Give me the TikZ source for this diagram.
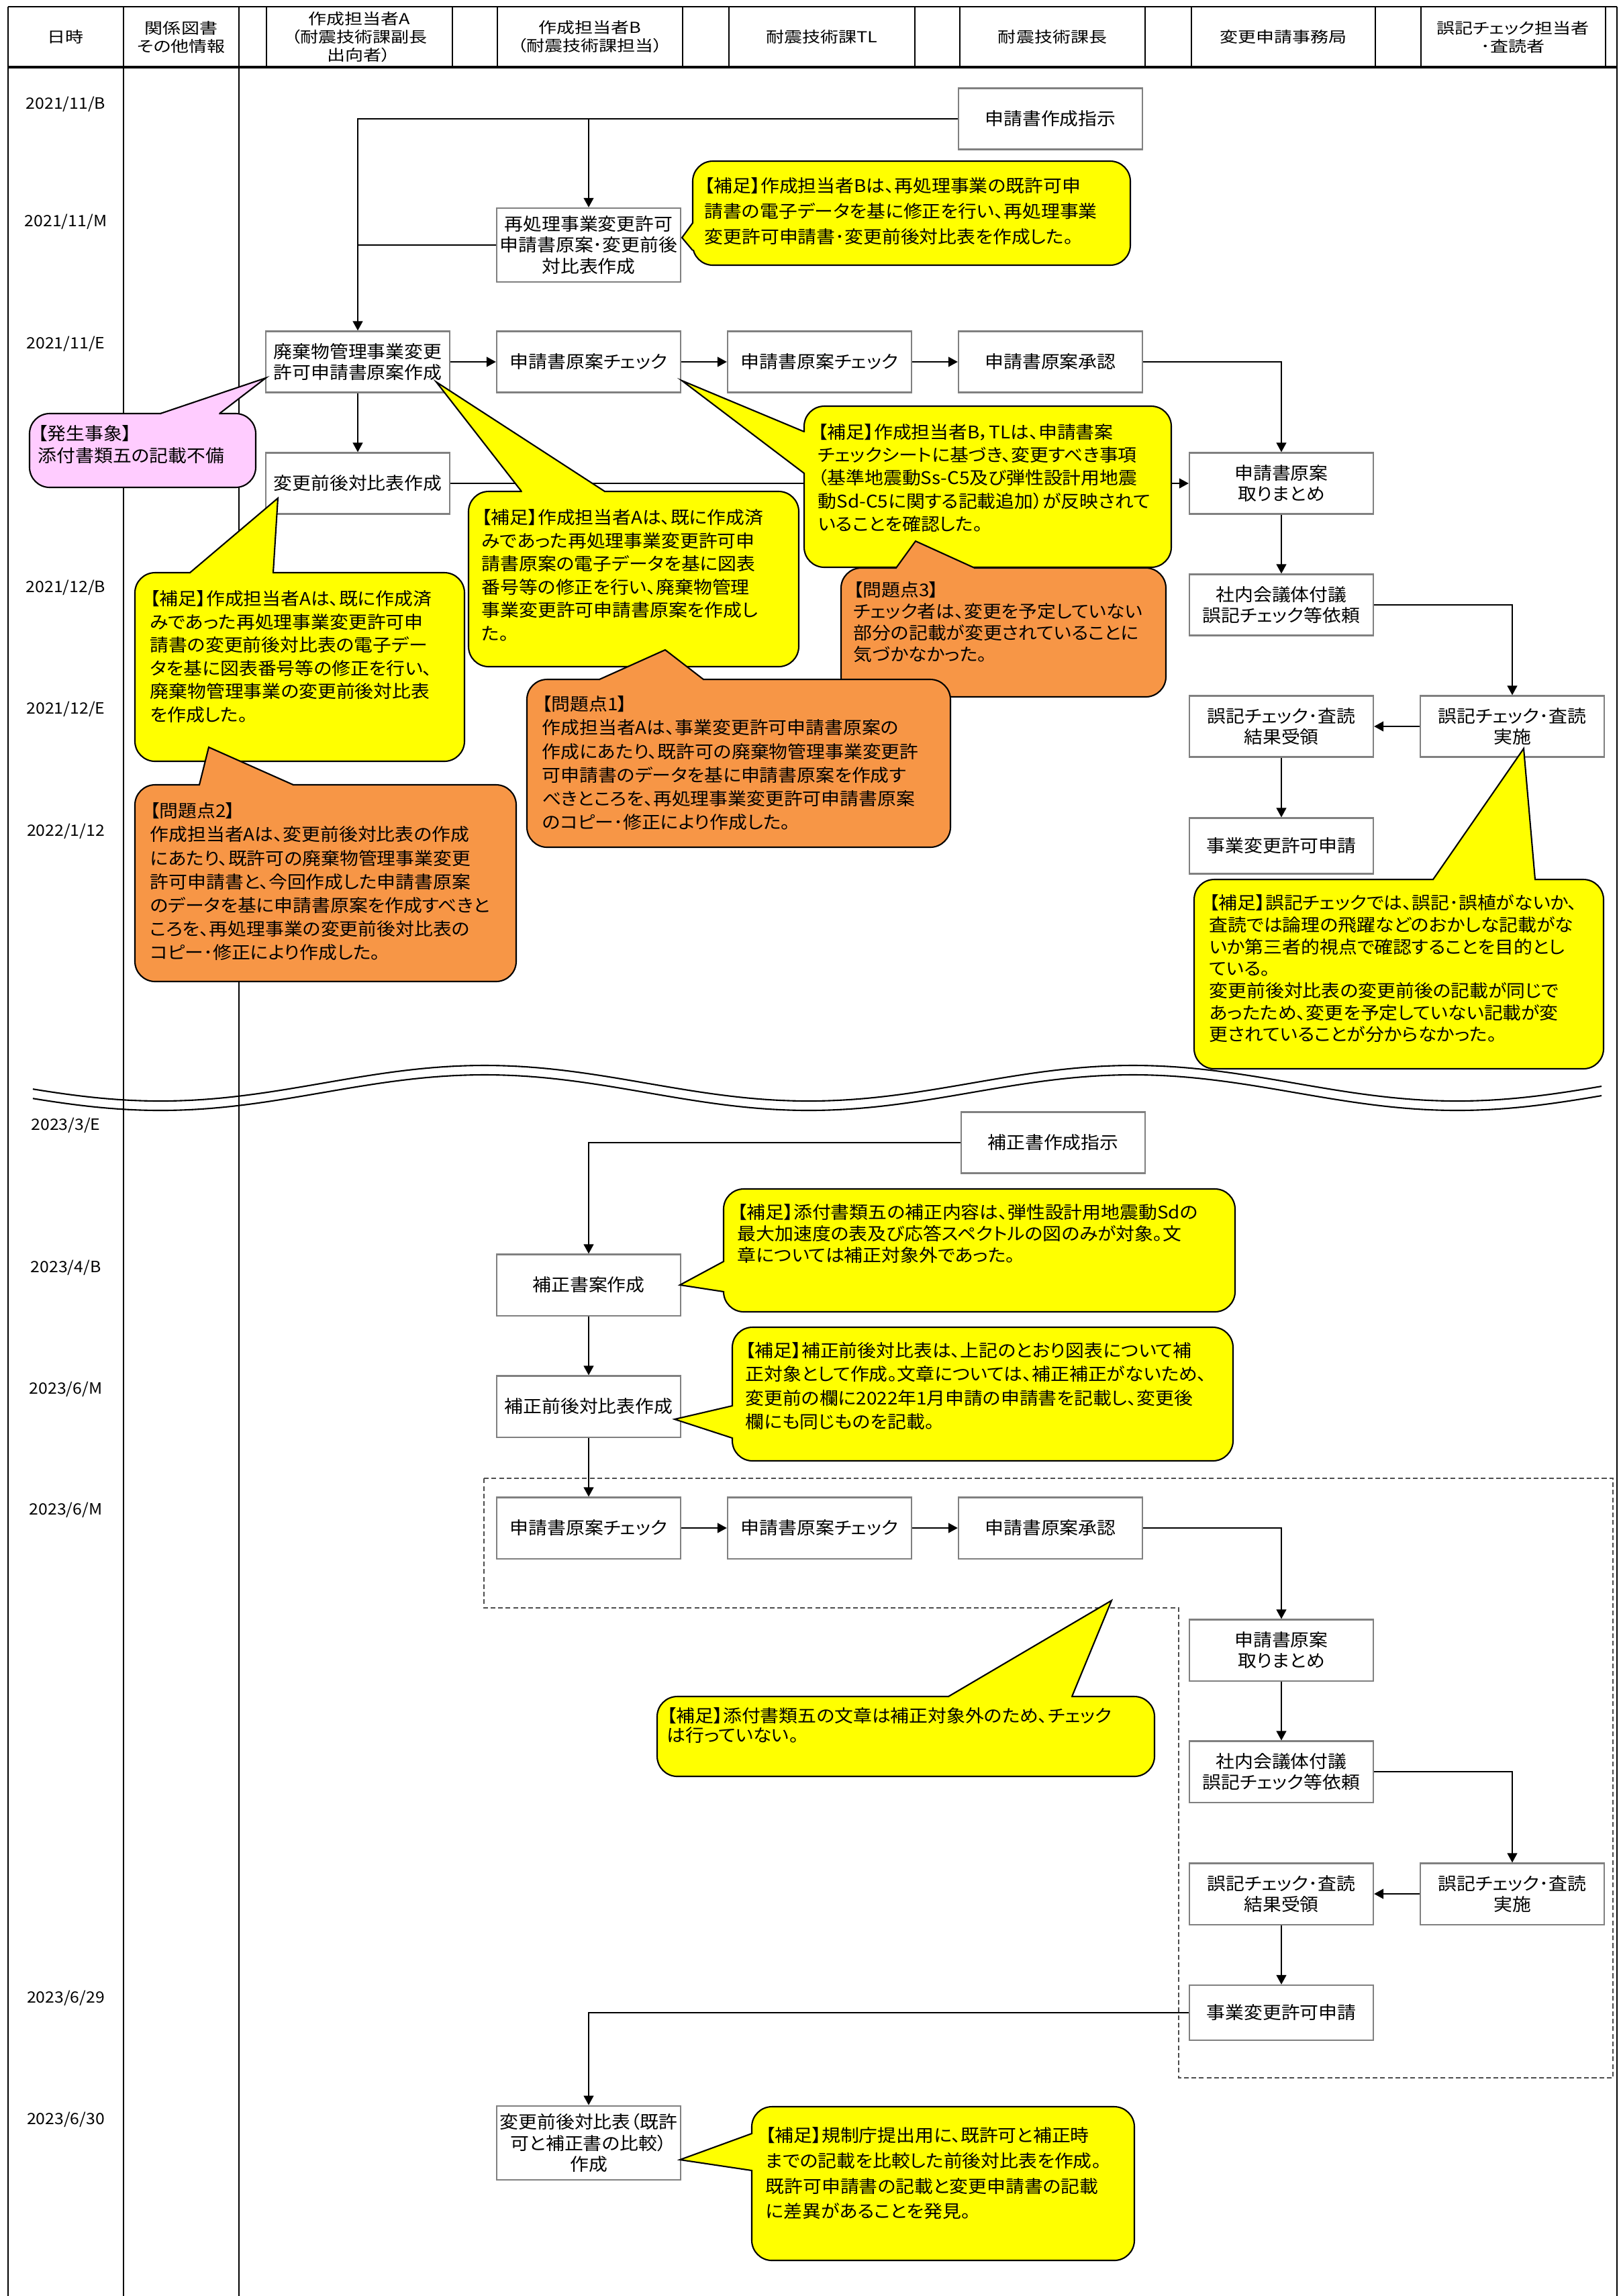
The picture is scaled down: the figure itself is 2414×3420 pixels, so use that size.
\documentclass[tikz,border=0pt]{standalone}
\usepackage{fontspec}
\setmainfont{Noto Sans CJK JP}[FakeStretch=1.07,RawFeature=+palt]
\newfontfamily\headfont{Noto Sans CJK JP}[FakeStretch=1.2,RawFeature=+palt]
\usetikzlibrary{arrows.meta}
\definecolor{noteyellow}{RGB}{255,255,0}
\definecolor{noteorange}{RGB}{247,150,70}
\definecolor{notepink}{RGB}{255,204,255}
\tikzset{
  colline/.style={line width=0.7pt},
  taskbox/.style={draw=black!50,line width=0.6pt,fill=white,minimum width=2.74cm,minimum height=0.91cm,inner xsep=1pt,align=center,font=\fontsize{7.4}{8.9}\selectfont},
  flowarrow/.style={line width=0.6pt,-{Triangle[length=4pt,width=4.2pt]}},
  plainline/.style={line width=0.6pt},
  notebox/.style={line width=0.6pt,rounded corners=0.3cm},
  notetext/.style={anchor=north west,inner sep=0pt,align=left,font=\fontsize{7.4}{9.8}\selectfont},
  datelabel/.style={font=\fontsize{6.6}{8}\selectfont},
  headlabel/.style={align=center,font=\headfont\fontsize{6.4}{7.7}\selectfont}
}
\begin{document}
\begin{tikzpicture}[x=0.01cm,y=-0.01cm]
\useasboundingbox (0,0) rectangle (2414,3420);
% header row and lanes
\draw[colline] (12,10) -- (2409,10);
\draw[colline,line width=1pt] (12,100) -- (2409,100);
\foreach \cx in {12,184,356,397,674,741,1017,1086,1363,1430,1706,1775,2049,2117,2392,2409}
  \draw[colline] (\cx,10) -- (\cx,100);
\foreach \cx in {12,184,356,2409}
  \draw[colline] (\cx,100) -- (\cx,3420);
\node[headlabel] (hdate) at (98,55) {日時};
\node[headlabel] (hinfo) at (270,55) {関係図書\\その他情報};
\node[headlabel] (hA) at (535,55) {作成担当者A\\（耐震技術課副長\\出向者）};
\node[headlabel] (hB) at (879,55) {作成担当者B\\（耐震技術課担当）};
\node[headlabel] (hTL) at (1224,55) {耐震技術課TL};
\node[headlabel] (hchief) at (1568,55) {耐震技術課長};
\node[headlabel] (hoffice) at (1912,55) {変更申請事務局};
\node[headlabel] (hcheck) at (2254,55) {誤記チェック担当者\\･査読者};
% dates
\node[datelabel] (d1) at (98,155) {2021/11/B};
\node[datelabel] (d2) at (98,330) {2021/11/M};
\node[datelabel] (d3) at (98,512) {2021/11/E};
\node[datelabel] (d4) at (98,875) {2021/12/B};
\node[datelabel] (d5) at (98,1056) {2021/12/E};
\node[datelabel] (d6) at (98,1238) {2022/1/12};
\node[datelabel] (d7) at (98,1676) {2023/3/E};
\node[datelabel] (d8) at (98,1888) {2023/4/B};
\node[datelabel] (d9) at (98,2069) {2023/6/M};
\node[datelabel] (d10) at (98,2249) {2023/6/M};
\node[datelabel] (d11) at (98,2976) {2023/6/29};
\node[datelabel] (d12) at (98,3157) {2023/6/30};
% break between the two periods
\draw[line width=0.6pt] plot[domain=49:2386,samples=150,smooth] (\x,{1613.5+26.5*cos(((\x-239)/966)*360)});
\draw[line width=0.6pt] plot[domain=49:2386,samples=150,smooth] (\x,{1627.5+26.5*cos(((\x-239)/966)*360)});
\draw[black!70,line width=0.5pt,dash pattern=on 2pt off 1.2pt] (721,2202) -- (2403,2202) -- (2403,3095) -- (1756,3095) -- (1756,2395) -- (721,2395) -- cycle;
% first period
\node[taskbox] (shijiA) at (1565,177) {申請書作成指示};
\node[taskbox,minimum height=1.08cm] (saishori) at (877,365) {再処理事業変更許可\\申請書原案･変更前後\\対比表作成};
\node[taskbox] (haiki) at (533,539) {廃棄物管理事業変更\\許可申請書原案作成};
\node[taskbox] (chkB) at (877,539) {申請書原案チェック};
\node[taskbox] (chkTL) at (1221,539) {申請書原案チェック};
\node[taskbox] (shonin) at (1565,539) {申請書原案承認};
\node[taskbox] (taihiA) at (533,720) {変更前後対比表作成};
\node[taskbox] (torimatome) at (1909,720) {申請書原案\\取りまとめ};
\node[taskbox] (fugi) at (1909,901) {社内会議体付議\\誤記チェック等依頼};
\node[taskbox] (jisshi) at (2253,1082) {誤記チェック･査読\\実施};
\node[taskbox] (juryo) at (1909,1082) {誤記チェック･査読\\結果受領};
\node[taskbox,minimum height=0.83cm] (shinsei) at (1909,1260) {事業変更許可申請};
% second period
\node[taskbox] (hoseiShiji) at (1569,1702) {補正書作成指示};
\node[taskbox] (hoseian) at (877,1914) {補正書案作成};
\node[taskbox] (hoseiTaihi) at (877,2095) {補正前後対比表作成};
\node[taskbox] (chkB2) at (877,2276) {申請書原案チェック};
\node[taskbox] (chkTL2) at (1221,2276) {申請書原案チェック};
\node[taskbox] (shonin2) at (1565,2276) {申請書原案承認};
\node[taskbox] (torimatome2) at (1909,2458) {申請書原案\\取りまとめ};
\node[taskbox] (fugi2) at (1909,2639) {社内会議体付議\\誤記チェック等依頼};
\node[taskbox] (jisshi2) at (2253,2821) {誤記チェック･査読\\実施};
\node[taskbox] (juryo2) at (1909,2821) {誤記チェック･査読\\結果受領};
\node[taskbox,minimum height=0.82cm] (shinsei2) at (1909,2998) {事業変更許可申請};
\node[taskbox,minimum height=1.09cm] (henkou2) at (877,3192) {変更前後対比表（既許\\可と補正書の比較）\\作成};
% connectors
\draw[flowarrow] (shijiA.west) -| (haiki.north);
\draw[flowarrow] (saishori.north |- shijiA.west) -- (saishori.north);
\draw[plainline] (saishori.west) -- (saishori.west -| haiki.north);
\draw[flowarrow] (haiki) -- (chkB);
\draw[flowarrow] (chkB) -- (chkTL);
\draw[flowarrow] (chkTL) -- (shonin);
\draw[flowarrow] (shonin.east) -| (torimatome.north);
\draw[flowarrow] (haiki) -- (taihiA);
\draw[flowarrow] (taihiA) -- (torimatome);
\draw[flowarrow] (torimatome) -- (fugi);
\draw[flowarrow] (fugi.east) -| (jisshi.north);
\draw[flowarrow] (jisshi) -- (juryo);
\draw[flowarrow] (juryo) -- (shinsei);
\draw[flowarrow] (hoseiShiji.west) -| (hoseian.north);
\draw[flowarrow] (hoseian) -- (hoseiTaihi);
\draw[flowarrow] (hoseiTaihi) -- (chkB2);
\draw[flowarrow] (chkB2) -- (chkTL2);
\draw[flowarrow] (chkTL2) -- (shonin2);
\draw[flowarrow] (shonin2.east) -| (torimatome2.north);
\draw[flowarrow] (torimatome2) -- (fugi2);
\draw[flowarrow] (fugi2.east) -| (jisshi2.north);
\draw[flowarrow] (jisshi2) -- (juryo2);
\draw[flowarrow] (juryo2) -- (shinsei2);
\draw[flowarrow] (shinsei2.west) -| (henkou2.north);
% callouts
\draw[notebox,fill=noteyellow] (1032,240) rectangle (1684,395);
\fill[noteyellow] (1032,332) -- (1016,354) -- (1032,373) -- cycle;
\draw[noteyellow,line width=1.2pt] (1032,333) -- (1032,372);
\draw[plainline] (1032,332) -- (1016,354) -- (1032,373);
\node[notetext,font=\fontsize{7.4}{10.8}\selectfont] (note1) at (1049,264) {【補足】作成担当者Bは、再処理事業の既許可申\\請書の電子データを基に修正を行い、再処理事業\\変更許可申請書･変更前後対比表を作成した。};

\draw[notebox,fill=notepink] (44,616) rectangle (381,726);
\fill[notepink] (239,616) -- (396,563) -- (327,616) -- cycle;
\draw[notepink,line width=1.2pt] (240,616) -- (326,616);
\draw[plainline] (239,616) -- (396,563) -- (327,616);
\node[notetext,font=\fontsize{7.4}{9.4}\selectfont] (note2) at (56,633) {【発生事象】\\添付書類五の記載不備};

\draw[notebox,fill=noteyellow] (698,732) rectangle (1190,993);
\fill[noteyellow] (777,732) -- (650,569) -- (901,732) -- cycle;
\draw[noteyellow,line width=1.2pt] (778,732) -- (900,732);
\draw[plainline] (777,732) -- (650,569) -- (901,732);
\node[notetext] (note4) at (717,758) {【補足】作成担当者Aは、既に作成済\\みであった再処理事業変更許可申\\請書原案の電子データを基に図表\\番号等の修正を行い、廃棄物管理\\事業変更許可申請書原案を作成し\\た。};

\draw[notebox,fill=noteyellow] (201,853) rectangle (692,1134);
\fill[noteyellow] (283,853) -- (414,742) -- (407,853) -- cycle;
\draw[noteyellow,line width=1.2pt] (284,853) -- (406,853);
\draw[plainline] (283,853) -- (414,742) -- (407,853);
\node[notetext] (note3) at (223,879) {【補足】作成担当者Aは、既に作成済\\みであった再処理事業変更許可申\\請書の変更前後対比表の電子デー\\タを基に図表番号等の修正を行い、\\廃棄物管理事業の変更前後対比表\\を作成した。};

\draw[notebox,fill=noteorange] (201,1169) rectangle (769,1462);
\fill[noteorange] (297,1169) -- (311,1113) -- (437,1169) -- cycle;
\draw[noteorange,line width=1.2pt] (298,1169) -- (436,1169);
\draw[plainline] (297,1169) -- (311,1113) -- (437,1169);
\node[notetext,font=\fontsize{7.4}{10}\selectfont] (note6) at (223,1195) {【問題点2】\\作成担当者Aは、変更前後対比表の作成\\にあたり、既許可の廃棄物管理事業変更\\許可申請書と、今回作成した申請書原案\\のデータを基に申請書原案を作成すべきと\\ころを、再処理事業の変更前後対比表の\\コピー･修正により作成した。};

\draw[notebox,fill=noteyellow] (1198,605) rectangle (1745,845);
\fill[noteyellow] (1198,643) -- (1016,567) -- (1198,705) -- cycle;
\draw[noteyellow,line width=1.2pt] (1198,644) -- (1198,704);
\draw[plainline] (1198,643) -- (1016,567) -- (1198,705);
\node[notetext,font=\fontsize{7.4}{9.7}\selectfont] (note7) at (1218,631) {【補足】作成担当者B，TLは、申請書案\\チェックシートに基づき、変更すべき事項\\（基準地震動Ss-C5及び弾性設計用地震\\動Sd-C5に関する記載追加）が反映されて\\いることを確認した。};

\draw[notebox,fill=noteorange] (1253,846) rectangle (1737,1038);
\fill[noteorange] (1335,846) -- (1364,806) -- (1452,846) -- cycle;
\draw[noteorange,line width=1.2pt] (1336,846) -- (1451,846);
\draw[plainline] (1335,846) -- (1364,806) -- (1452,846);
\node[notetext,font=\fontsize{7.4}{9.1}\selectfont] (note8) at (1271,866) {【問題点3】\\チェック者は、変更を予定していない\\部分の記載が変更されていることに\\気づかなかった。};

\draw[notebox,fill=noteorange] (785,1012) rectangle (1416,1262);
\fill[noteorange] (893,1012) -- (991,968) -- (1048,1012) -- cycle;
\draw[noteorange,line width=1.2pt] (894,1012) -- (1047,1012);
\draw[plainline] (893,1012) -- (991,968) -- (1048,1012);
\node[notetext,font=\fontsize{7.4}{10}\selectfont] (note5) at (807,1036) {【問題点1】\\作成担当者Aは、事業変更許可申請書原案の\\作成にあたり、既許可の廃棄物管理事業変更許\\可申請書のデータを基に申請書原案を作成す\\べきところを、再処理事業変更許可申請書原案\\のコピー･修正により作成した。};

\draw[notebox,fill=noteyellow] (1779,1310) rectangle (2389,1592);
\fill[noteyellow] (2135,1310) -- (2270,1115) -- (2287,1310) -- cycle;
\draw[noteyellow,line width=1.2pt] (2136,1310) -- (2286,1310);
\draw[plainline] (2135,1310) -- (2270,1115) -- (2287,1310);
\node[notetext,font=\fontsize{7.4}{9.3}\selectfont] (note9) at (1801,1332) {【補足】誤記チェックでは、誤記･誤植がないか、\\査読では論理の飛躍などのおかしな記載がな\\いか第三者的視点で確認することを目的とし\\ている。\\変更前後対比表の変更前後の記載が同じで\\あったため、変更を予定していない記載が変\\更されていることが分からなかった。};

\draw[notebox,fill=noteyellow] (1078,1771) rectangle (1840,1954);
\fill[noteyellow] (1078,1879) -- (1013,1914) -- (1078,1924) -- cycle;
\draw[noteyellow,line width=1.2pt] (1078,1880) -- (1078,1923);
\draw[plainline] (1078,1879) -- (1013,1914) -- (1078,1924);
\node[notetext,font=\fontsize{7.4}{9.1}\selectfont] (note10) at (1098,1793) {【補足】添付書類五の補正内容は、弾性設計用地震動Sdの\\最大加速度の表及び応答スペクトルの図のみが対象。文\\章については補正対象外であった。};

\draw[notebox,fill=noteyellow] (1091,1977) rectangle (1837,2176);
\fill[noteyellow] (1091,2094) -- (1005,2114) -- (1091,2142) -- cycle;
\draw[noteyellow,line width=1.2pt] (1091,2095) -- (1091,2141);
\draw[plainline] (1091,2094) -- (1005,2114) -- (1091,2142);
\node[notetext,font=\fontsize{7.4}{10}\selectfont] (note11) at (1110,1999) {【補足】補正前後対比表は、上記のとおり図表について補\\正対象として作成。文章については、補正補正がないため、\\変更前の欄に2022年1月申請の申請書を記載し、変更後\\欄にも同じものを記載。};

\draw[notebox,fill=noteyellow] (979,2527) rectangle (1720,2646);
\fill[noteyellow] (1413,2527) -- (1656,2384) -- (1597,2527) -- cycle;
\draw[noteyellow,line width=1.2pt] (1414,2527) -- (1596,2527);
\draw[plainline] (1413,2527) -- (1656,2384) -- (1597,2527);
\node[notetext,font=\fontsize{7.4}{8.3}\selectfont] (note12) at (993,2543) {【補足】添付書類五の文章は補正対象外のため、チェック\\は行っていない。};

\draw[notebox,fill=noteyellow] (1120,3138) rectangle (1690,3367);
\fill[noteyellow] (1120,3178) -- (1013,3217) -- (1120,3233) -- cycle;
\draw[noteyellow,line width=1.2pt] (1120,3179) -- (1120,3232);
\draw[plainline] (1120,3178) -- (1013,3217) -- (1120,3233);
\node[notetext,font=\fontsize{7.4}{10.7}\selectfont] (note13) at (1140,3168) {【補足】規制庁提出用に、既許可と補正時\\までの記載を比較した前後対比表を作成。\\既許可申請書の記載と変更申請書の記載\\に差異があることを発見。};
\end{tikzpicture}
\end{document}
